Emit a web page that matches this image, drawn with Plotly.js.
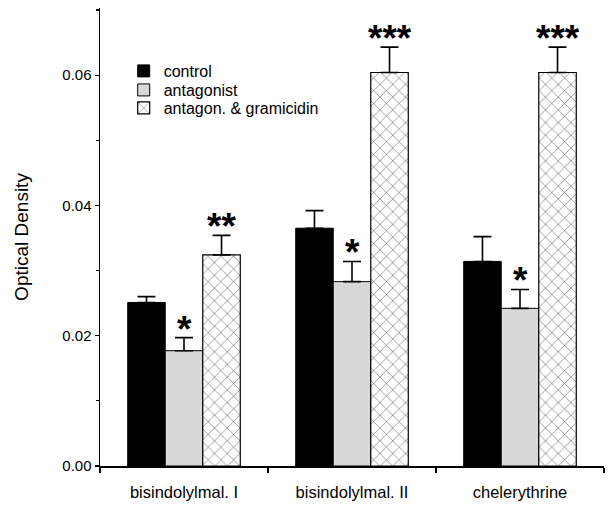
<!DOCTYPE html>
<html>
<head>
<meta charset="utf-8">
<script src="https://cdn.plot.ly/plotly-3.0.1.min.js"></script>
<style>html,body{margin:0;padding:0;background:#fff;}#chart{width:613px;height:508px;}</style>
</head>
<body>
<div id="chart"></div>
<script>
const categories = ["bisindolylmal. I", "bisindolylmal. II", "chelerythrine"];
const seriesNames = ["control", "antagonist", "antagon. & gramicidin"];
const control = [0.0251, 0.0365, 0.0314];
const controlErr = [0.0009, 0.0027, 0.0038];
const antagonist = [0.0177, 0.0283, 0.0242];
const antagonistErr = [0.0020, 0.0031, 0.0029];
const gramicidin = [0.0324, 0.0604, 0.0604];
const gramicidinErr = [0.0030, 0.0039, 0.0039];
const antagonistStars = ["*", "*", "*"];
const gramicidinStars = ["**", "***", "***"];
const yTicks = [0, 0.02, 0.04, 0.06];

const font = "Liberation Sans, Arial, Helvetica, sans-serif";
const zeros = [0, 0, 0];
function errBar(arr) {
  return {type: "data", symmetric: false, array: arr, arrayminus: zeros, color: "#000", thickness: 1.6, width: 9};
}
const traces = [
  {type: "bar", name: seriesNames[0], x: categories, y: control, error_y: errBar(controlErr), legend: "legend",
   marker: {color: "#000", line: {color: "#000", width: 1}}},
  {type: "bar", name: seriesNames[1], x: categories, y: antagonist, error_y: errBar(antagonistErr), legend: "legend2",
   marker: {color: "#dedede", line: {color: "#000", width: 1},
            pattern: {shape: ".", fgcolor: "#b4b4b4", bgcolor: "#e4e4e4", size: 2, solidity: 0.3}}},
  {type: "bar", name: seriesNames[2], x: categories, y: gramicidin, error_y: errBar(gramicidinErr), legend: "legend3",
   marker: {color: "#fff", line: {color: "#000", width: 1.2},
            pattern: {shape: "x", fgcolor: "#333", bgcolor: "#fff", size: 9, solidity: 0.1}}}
];

const barW = 0.67 / 3;
const annotations = [];
const starFont = {family: font, size: 37, color: "#000"};
categories.forEach((c, i) => {
  annotations.push({x: i, y: antagonist[i] + antagonistErr[i], xref: "x", yref: "y",
    text: "<b>" + antagonistStars[i] + "</b>", showarrow: false, yanchor: "bottom", yshift: -14, font: starFont});
  annotations.push({x: i + barW, y: gramicidin[i] + gramicidinErr[i], xref: "x", yref: "y",
    text: "<b>" + gramicidinStars[i] + "</b>", showarrow: false, yanchor: "bottom", yshift: -14, font: starFont});
});

function legendAt(y) {
  return {x: 0.047, y: y, xanchor: "left", yanchor: "top", bgcolor: "rgba(0,0,0,0)",
          font: {family: font, size: 16, color: "#000"}};
}

const layout = {
  width: 613, height: 508,
  margin: {l: 100, r: 9, t: 8, b: 42},
  paper_bgcolor: "#fff", plot_bgcolor: "#fff",
  font: {family: font, color: "#000"},
  barmode: "group", bargap: 0.33, bargroupgap: 0,
  showlegend: true,
  legend: legendAt(0.8996),
  legend2: legendAt(0.858),
  legend3: legendAt(0.8188),
  xaxis: {type: "category", range: [-0.5, 2.5], showline: true, linecolor: "#000", linewidth: 1.5,
          ticks: "outside", tickson: "boundaries", ticklen: 5, tickcolor: "#000", tickwidth: 1.2,
          showgrid: false, zeroline: false, fixedrange: true,
          tickfont: {family: font, size: 16.5, color: "#000"}, ticklabelstandoff: 11},
  yaxis: {range: [0, 0.0703], showline: true, linecolor: "#000", linewidth: 1.5,
          tickmode: "array", tickvals: yTicks, tickformat: ".2f",
          ticks: "outside", ticklen: 4, tickcolor: "#000", tickwidth: 1.2,
          minor: {dtick: 0.01, ticks: "outside", ticklen: 3, tickcolor: "#000", showgrid: false},
          showgrid: false, zeroline: false,
          tickfont: {family: font, size: 15, color: "#000"},
          title: {text: "Optical Density", font: {family: font, size: 19, color: "#000"}, standoff: 28}},
  annotations: annotations
};

Plotly.newPlot("chart", traces, layout, {staticPlot: true, displayModeBar: false});
</script>
</body>
</html>
